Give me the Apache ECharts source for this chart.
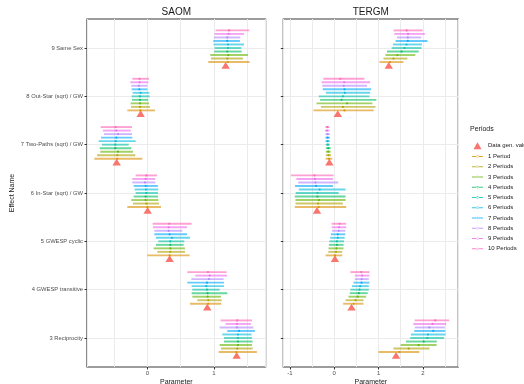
<!DOCTYPE html>
<html>
<head>
<meta charset="utf-8">
<script src="https://cdn.jsdelivr.net/npm/echarts@6/dist/echarts.min.js"></script>
<style>
  html, body { margin: 0; background: #fff; }
  #chart { width: 524px; height: 384px; }
</style>
</head>
<body>
<div id="chart"></div>
<script>
// effects from bottom (1) to top (7)
const effects = [
  '3 Reciprocity',
  '4 GWESP transitive',
  '5 GWESP cyclic',
  '6 In-Star (sqrt) / GW',
  '7 Two-Paths (sqrt) / GW',
  '8 Out-Star (sqrt) / GW',
  '9 Same Sex'
]
const periods = ['1 Period', '2 Periods', '3 Periods', '4 Periods', '5 Periods',
  '6 Periods', '7 Periods', '8 Periods', '9 Periods', '10 Periods']
const periodColors = ['#DB8E00', '#AEA200', '#64B200', '#00BD5C', '#00C1A7',
  '#00BADE', '#00A6FF', '#B385FF', '#EF67EB', '#FF63B6']
const truthName = 'Data gen. value'
const truthColor = '#F8766D'

const saomTicks = [0, 1]
const tergmTicks = [-1, 0, 1, 2]

// rows follow `effects`, columns are periods 1..10
const saomLow = [
  [1.07, 1.105, 1.085, 1.15, 1.15, 1.125, 1.2, 1.085, 1.175, 1.1],
  [0.64, 0.75, 0.675, 0.665, 0.675, 0.665, 0.6, 0.66, 0.72, 0.6],
  [0.0, 0.15, 0.095, 0.13, 0.165, 0.13, 0.105, 0.105, 0.085, 0.08],
  [-0.3, -0.215, -0.24, -0.205, -0.175, -0.19, -0.205, -0.225, -0.225, -0.175],
  [-0.795, -0.755, -0.705, -0.715, -0.68, -0.73, -0.695, -0.65, -0.665, -0.7],
  [-0.3, -0.245, -0.25, -0.23, -0.235, -0.22, -0.235, -0.24, -0.255, -0.225],
  [0.915, 0.955, 0.945, 1.005, 1.01, 0.995, 0.99, 1.0, 1.01, 1.025]
]
const saomEst = [
  [1.335, 1.35, 1.36, 1.36, 1.36, 1.36, 1.375, 1.345, 1.345, 1.35],
  [0.915, 0.915, 0.905, 0.905, 0.895, 0.885, 0.895, 0.925, 0.935, 0.91],
  [0.335, 0.345, 0.345, 0.345, 0.345, 0.37, 0.335, 0.32, 0.32, 0.33],
  [0.0, -0.015, -0.025, -0.025, -0.015, -0.02, -0.025, -0.035, -0.025, -0.015],
  [-0.45, -0.45, -0.44, -0.48, -0.48, -0.475, -0.465, -0.44, -0.465, -0.475],
  [-0.105, -0.11, -0.11, -0.11, -0.11, -0.1, -0.12, -0.125, -0.115, -0.115],
  [1.21, 1.2, 1.215, 1.2, 1.21, 1.21, 1.2, 1.2, 1.22, 1.225]
]
const saomHigh = [
  [1.645, 1.58, 1.57, 1.58, 1.57, 1.565, 1.615, 1.59, 1.555, 1.57],
  [1.11, 1.115, 1.105, 1.2, 1.085, 1.15, 1.15, 1.145, 1.195, 1.19],
  [0.635, 0.565, 0.565, 0.545, 0.555, 0.64, 0.595, 0.525, 0.595, 0.665],
  [0.205, 0.175, 0.165, 0.16, 0.16, 0.165, 0.16, 0.12, 0.12, 0.145],
  [-0.075, -0.18, -0.215, -0.24, -0.28, -0.175, -0.225, -0.23, -0.25, -0.23],
  [0.115, 0.04, 0.025, 0.015, 0.035, 0.03, 0.0, 0.0, 0.015, 0.025],
  [1.535, 1.435, 1.51, 1.415, 1.41, 1.45, 1.39, 1.395, 1.45, 1.53]
]
const saomTruth = [1.34, 0.9, 0.335, 0.005, -0.46, -0.1, 1.175]

const tergmLow = [
  [0.995, 1.335, 1.5, 1.62, 1.715, 1.73, 1.805, 1.82, 1.785, 1.815],
  [0.2, 0.255, 0.32, 0.35, 0.365, 0.4, 0.435, 0.465, 0.465, 0.365],
  [-0.195, -0.135, -0.13, -0.12, -0.11, -0.09, -0.075, -0.05, -0.06, -0.06],
  [-0.89, -0.875, -0.875, -0.89, -0.87, -0.8, -0.885, -0.815, -0.855, -0.975],
  [-0.195, -0.19, -0.19, -0.19, -0.195, -0.2, -0.2, -0.2, -0.21, -0.2],
  [-0.47, -0.3, -0.4, -0.32, -0.35, -0.19, -0.26, -0.27, -0.285, -0.245],
  [1.02, 1.11, 1.155, 1.19, 1.295, 1.325, 1.385, 1.415, 1.355, 1.34]
]
const tergmEst = [
  [1.47, 1.68, 1.905, 2.02, 2.1, 2.115, 2.235, 2.145, 2.22, 2.28],
  [0.44, 0.48, 0.53, 0.555, 0.57, 0.585, 0.615, 0.62, 0.63, 0.61],
  [0.02, 0.04, 0.05, 0.06, 0.06, 0.08, 0.08, 0.1, 0.11, 0.12],
  [-0.35, -0.365, -0.345, -0.38, -0.38, -0.33, -0.41, -0.425, -0.435, -0.45],
  [-0.12, -0.13, -0.135, -0.135, -0.145, -0.15, -0.15, -0.15, -0.16, -0.155],
  [0.23, 0.195, 0.29, 0.165, 0.195, 0.24, 0.23, 0.215, 0.225, 0.135],
  [1.26, 1.335, 1.425, 1.52, 1.585, 1.63, 1.66, 1.66, 1.665, 1.635]
]
const tergmHigh = [
  [1.92, 2.15, 2.31, 2.315, 2.48, 2.51, 2.505, 2.495, 2.525, 2.595],
  [0.66, 0.66, 0.72, 0.755, 0.78, 0.78, 0.795, 0.78, 0.795, 0.795],
  [0.18, 0.18, 0.21, 0.21, 0.22, 0.235, 0.25, 0.25, 0.27, 0.27],
  [0.27, 0.195, 0.255, 0.255, 0.1, 0.255, -0.03, 0.09, -0.03, -0.015],
  [-0.045, -0.07, -0.08, -0.08, -0.1, -0.1, -0.1, -0.1, -0.11, -0.11],
  [0.89, 0.93, 0.86, 0.95, 0.795, 0.81, 0.83, 0.74, 0.81, 0.68],
  [1.56, 1.65, 1.83, 1.905, 1.97, 1.98, 2.105, 1.965, 2.045, 1.995]
]
const tergmTruth = [1.395, 0.39, 0.015, -0.39, -0.11, 0.08, 1.23]

const FONT = '"Liberation Sans", Arial, sans-serif'
const DODGE = 0.8 / 11
const GRID_COLOR = '#ebebeb'
const INK = '#1a1a1a'

// slot: 0 = truth triangle (bottom), 1..10 = periods upward, centre is slot 5
function slotShift(slot, api) {
  return -(slot - 5) * DODGE * api.size([0, 1])[1]
}

function barRenderer(slot, color) {
  return function (params, api) {
    const cat = api.value(0)
    const dy = slotShift(slot, api)
    const a = api.coord([api.value(1), cat])
    const m = api.coord([api.value(2), cat])
    const b = api.coord([api.value(3), cat])
    return {
      type: 'group',
      children: [
        {
          type: 'line',
          shape: { x1: a[0], y1: a[1] + dy, x2: b[0], y2: b[1] + dy },
          style: { stroke: color, lineWidth: 1.9, opacity: 0.6 }
        },
        {
          type: 'circle',
          shape: { cx: m[0], cy: m[1] + dy, r: 1.1 },
          style: { fill: color, opacity: 0.9 }
        }
      ]
    }
  }
}

function truthRenderer(params, api) {
  const cat = api.value(0)
  const dy = slotShift(0, api)
  const p = api.coord([api.value(1), cat])
  const y = p[1] + dy
  return {
    type: 'polygon',
    shape: { points: [[p[0], y - 3.6], [p[0] - 4.2, y + 3.2], [p[0] + 4.2, y + 3.2]] },
    style: { fill: truthColor }
  }
}

function buildSeries(gridIndex, low, est, high, truth) {
  const list = [{
    name: truthName,
    type: 'custom',
    xAxisIndex: gridIndex,
    yAxisIndex: gridIndex,
    itemStyle: { color: truthColor },
    encode: { x: 1, y: 0 },
    renderItem: truthRenderer,
    data: truth.map((v, i) => [i + 1, v])
  }]
  periods.forEach((name, p) => {
    list.push({
      name: name,
      type: 'custom',
      xAxisIndex: gridIndex,
      yAxisIndex: gridIndex,
      itemStyle: { color: periodColors[p], opacity: 0.8 },
      encode: { x: [1, 2, 3], y: 0 },
      renderItem: barRenderer(p + 1, periodColors[p]),
      data: effects.map((_, i) => [i + 1, low[i][p], est[i][p], high[i][p]])
    })
  })
  return list
}

function gridAxis(gridIndex, min, max, splitNumber) {
  return {
    gridIndex: gridIndex,
    type: 'value',
    position: 'bottom',
    min: min,
    max: max,
    splitNumber: splitNumber,
    axisLine: { show: false, onZero: false },
    axisTick: { show: false },
    axisLabel: { show: false },
    splitLine: { show: true, lineStyle: { color: GRID_COLOR, width: 1 } },
    name: 'Parameter',
    nameLocation: 'middle',
    nameGap: 11.5,
    nameTextStyle: { fontSize: 7, color: INK, fontFamily: FONT }
  }
}

function tickAxis(gridIndex, min, max, ticks) {
  return {
    gridIndex: gridIndex,
    type: 'value',
    position: 'bottom',
    min: min,
    max: max,
    axisLine: { show: false, onZero: false },
    axisTick: { show: true, customValues: ticks, length: 2.5, lineStyle: { color: '#333', width: 1 } },
    axisLabel: { show: true, customValues: ticks, margin: 3.5, fontSize: 6, color: '#4d4d4d', fontFamily: FONT },
    splitLine: { show: false }
  }
}

function yAxis(gridIndex, showLabels) {
  const cats = effects.map((_, i) => i + 1)
  return {
    gridIndex: gridIndex,
    type: 'value',
    position: 'left',
    min: 0.4,
    max: 7.6,
    axisLine: { show: false, onZero: false },
    axisTick: { show: true, customValues: cats, length: 2.5, lineStyle: { color: '#333', width: 1 } },
    axisLabel: {
      show: showLabels,
      customValues: cats,
      margin: 4,
      fontSize: 5.8,
      color: '#4d4d4d',
      fontFamily: FONT,
      formatter: (v) => effects[Math.round(v) - 1] || ''
    },
    splitLine: { show: true, lineStyle: { color: GRID_COLOR, width: 1 } }
  }
}

const triIcon = 'path://M4,0L8,7L0,7Z'
const barIcon = 'path://M0,4h24v2h-24z M9.5,5a2.5,2.5 0 1,0 5,0a2.5,2.5 0 1,0 -5,0z'

const chart = echarts.init(document.getElementById('chart'), null, { renderer: 'canvas' })
chart.setOption({
  animation: false,
  backgroundColor: '#fff',
  textStyle: { fontFamily: FONT },
  grid: [
    { left: 87, top: 19, width: 178.6, height: 348, show: true, borderColor: '#3a3a3a', borderWidth: 1.2, backgroundColor: 'transparent', outerBoundsMode: 'none' },
    { left: 283.3, top: 19, width: 175, height: 348, show: true, borderColor: '#3a3a3a', borderWidth: 1.2, backgroundColor: 'transparent', outerBoundsMode: 'none' }
  ],
  xAxis: [
    gridAxis(0, -0.905, 1.775, 5),
    gridAxis(1, -1.15, 2.8, 7),
    tickAxis(0, -0.905, 1.775, saomTicks),
    tickAxis(1, -1.15, 2.8, tergmTicks)
  ],
  yAxis: [yAxis(0, true), yAxis(1, false)],
  legend: {
    orient: 'vertical',
    left: 467,
    top: 137.2,
    itemWidth: 11,
    itemHeight: 7,
    itemGap: 4.26,
    selectedMode: false,
    textStyle: { fontSize: 6, color: INK, fontFamily: FONT },
    data: [{ name: truthName, icon: triIcon }].concat(periods.map((n) => ({ name: n, icon: barIcon })))
  },
  graphic: [
    { type: 'text', x: 176.3, y: 12.5, style: { text: 'SAOM', align: 'center', verticalAlign: 'middle', fontSize: 10, fill: INK, fontFamily: FONT } },
    { type: 'text', x: 370.8, y: 12.5, style: { text: 'TERGM', align: 'center', verticalAlign: 'middle', fontSize: 10, fill: INK, fontFamily: FONT } },
    { type: 'text', x: 470, y: 129, style: { text: 'Periods', align: 'left', verticalAlign: 'middle', fontSize: 7, fill: INK, fontFamily: FONT } },
    { type: 'text', x: 12.5, y: 193, rotation: Math.PI / 2, style: { text: 'Effect Name', align: 'center', verticalAlign: 'middle', fontSize: 7, fill: INK, fontFamily: FONT } }
  ],
  series: buildSeries(0, saomLow, saomEst, saomHigh, saomTruth)
    .concat(buildSeries(1, tergmLow, tergmEst, tergmHigh, tergmTruth))
})
</script>
</body>
</html>
